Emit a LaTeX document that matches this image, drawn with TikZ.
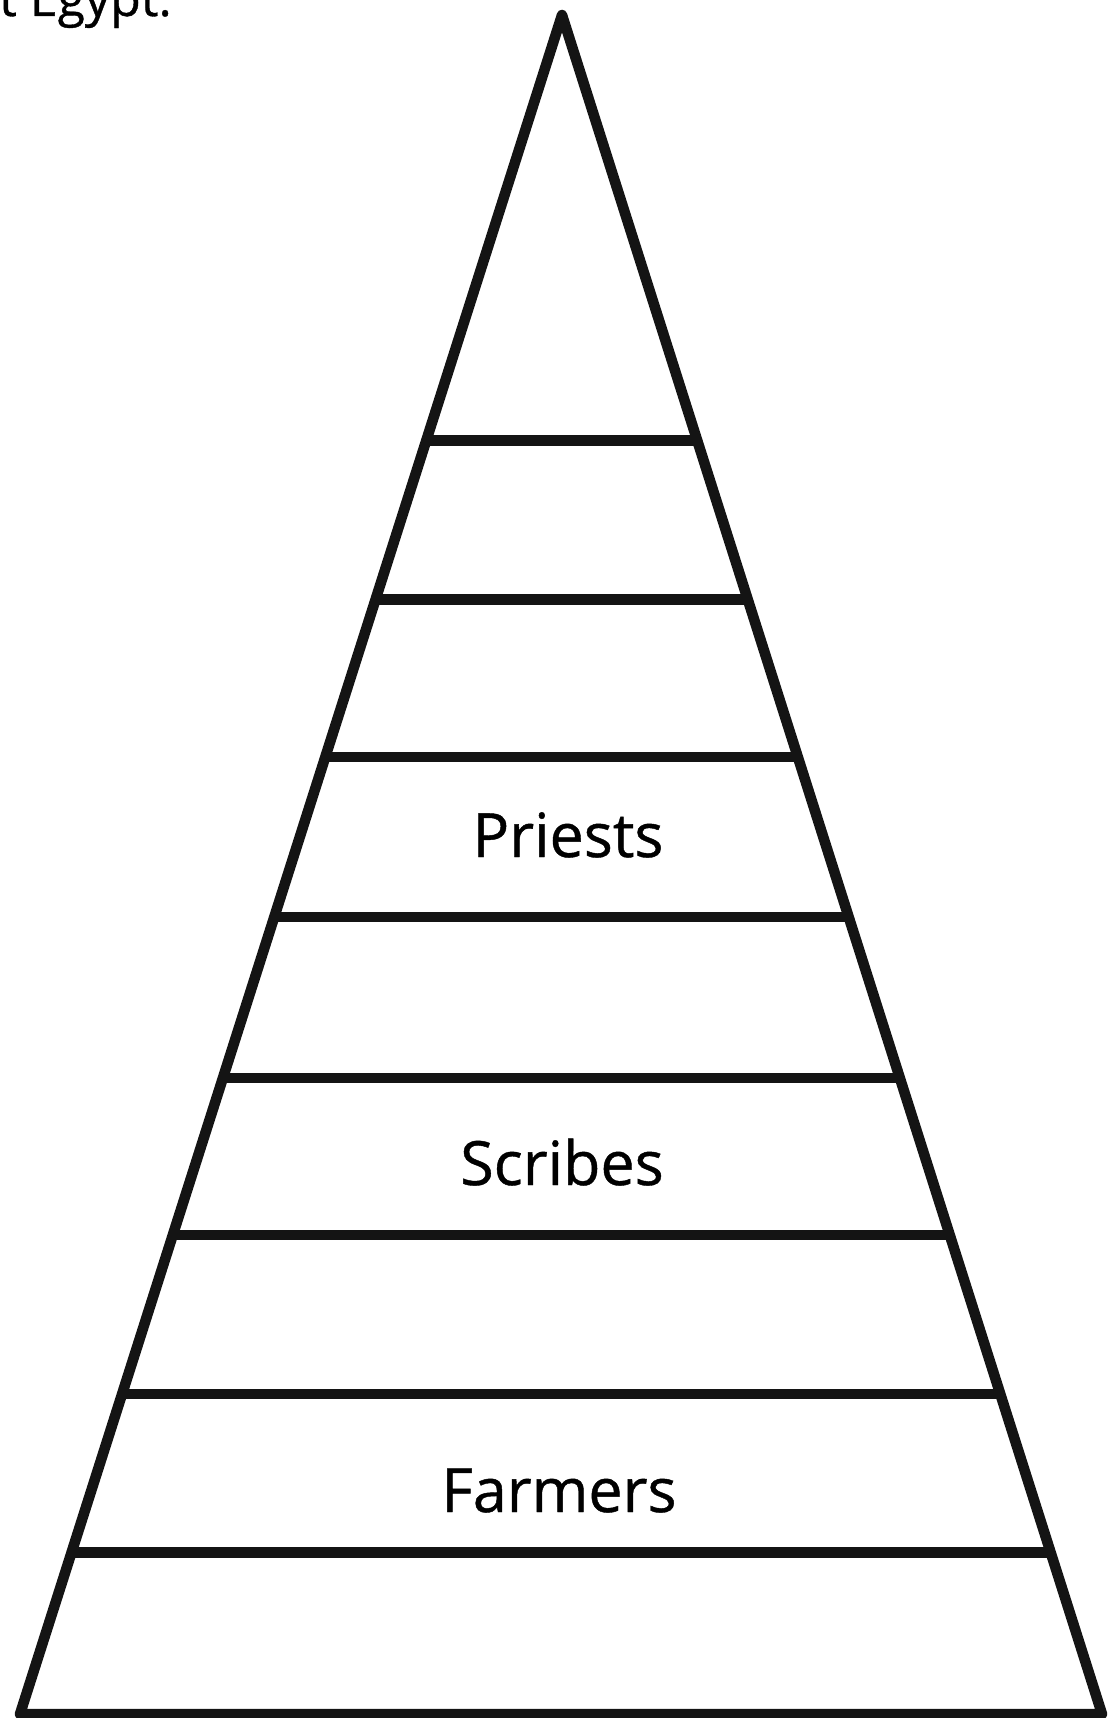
\documentclass[tikz,border=0pt]{standalone}
\usepackage{fontspec}
\setmainfont{Open Sans}
\newfontfamily\tierfont{Open Sans}[FakeBold=0.7]
\usetikzlibrary{calc}
\tikzset{
  edge/.style={line width=10.5pt, draw=black!92, line join=round},
  tier/.style={font=\tierfont\fontsize{61}{66}\selectfont, anchor=base, inner sep=0pt},
  headtext/.style={font=\tierfont\fontsize{50}{54}\selectfont, anchor=base west, inner sep=0pt},
}
\begin{document}
\begin{tikzpicture}[x=1pt,y=-1pt]
  \useasboundingbox (0,0) rectangle (1110,1718);
  \clip (0,0) rectangle (1110,1718);
  \node[headtext] (title) at (-1,16) {t Egypt.};
  % pyramid outline
  \coordinate (apex) at (562,15);
  \coordinate (bl) at (20,1714);
  \coordinate (br) at (1102,1714);
  \draw[edge] (bl) -- (apex) -- (br) -- cycle;
  % tier lines
  \foreach \y in {440.5,599.4,757.2,917.2,1078.2,1235,1393.8,1552.7} {
    \pgfmathsetmacro{\t}{(\y-15)/1699}
    \draw[edge] ($(apex)!\t!(bl)$) -- ($(apex)!\t!(br)$);
  }
  \node[tier] (priests) at (568,857) {Priests};
  \node[tier] (scribes) at (562,1185) {Scribes};
  \node[tier] (farmers) at (559,1512) {Farmers};
\end{tikzpicture}
\end{document}
